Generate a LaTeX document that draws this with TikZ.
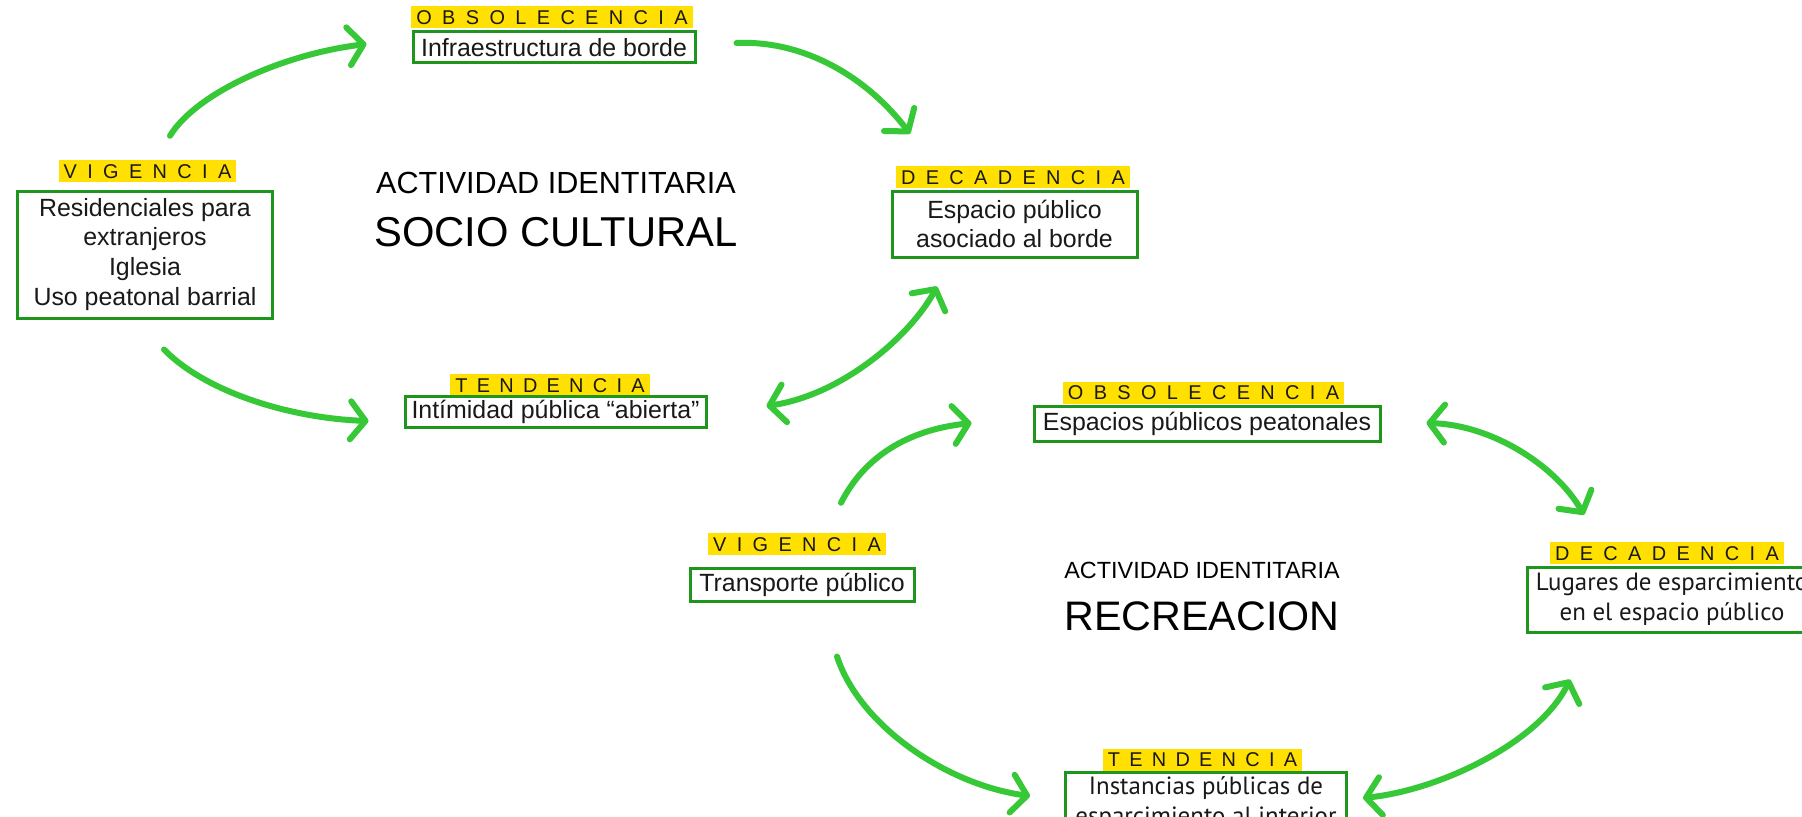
\documentclass[tikz,border=0pt]{standalone}
\usepackage{fontspec}
\setmainfont{Liberation Sans}
\newfontfamily\lblfont[LetterSpace=52]{Liberation Sans}
\newfontfamily\lblfontT[LetterSpace=46.5]{Liberation Sans}
\newfontfamily\myr{PT Sans}
\usetikzlibrary{arrows.meta}
\definecolor{ylw}{RGB}{255,224,0}
\definecolor{boxg}{RGB}{30,150,30}
\definecolor{arrg}{RGB}{55,200,55}
\definecolor{txt}{RGB}{25,25,25}
\tikzset{
 lbl/.style={fill=ylw, inner xsep=5bp, inner ysep=3.8bp, text height=14.4bp, text depth=0bp,
   font=\fontsize{20}{20}\lblfont, text=txt},
 lblT/.style={lbl, font=\fontsize{20}{20}\lblfontT},
 box/.style={draw=boxg, line width=3bp, fill=white, inner sep=0pt, align=center,
   font=\fontsize{25}{30}\selectfont, text=txt},
 ttl/.style={anchor=base, inner sep=0pt, text=black},
 flow/.style={draw=arrg, line width=6bp, line cap=round, -{Straight Barb[length=15bp,width=38bp,round]}},
 both/.style={draw=arrg, line width=6bp, line cap=round, {Straight Barb[length=15bp,width=38bp,round]}-{Straight Barb[length=15bp,width=38bp,round]}},
}
\begin{document}
\begin{tikzpicture}[x=1bp,y=-1bp]
\useasboundingbox (0,0) rectangle (1802,817);
\clip (0,0) rectangle (1802,817);
\fill[white] (0,0) rectangle (1802,817);

% socio cultural
\node[lbl] (obs1l) at (552,17) {OBSOLECENCIA};
\node[box, minimum width=282bp, minimum height=31bp] (infra) at (554,47.5) {Infraestructura de borde};
\node[lbl] (vig1l) at (147.5,171) {VIGENCIA};
\node[box, minimum width=254bp, minimum height=127bp] (res) at (145,254.5) {Residenciales para\\extranjeros\\Iglesia\\Uso peatonal barrial};
\node[lbl] (dec1l) at (1013,177) {DECADENCIA};
\node[box, minimum width=245bp, minimum height=66bp] (esp1) at (1014.5,224) {Espacio público\\asociado al borde};
\node[lblT] (ten1l) at (550,385) {TENDENCIA};
\node[box, minimum width=301bp, minimum height=31bp] (intim) at (555.5,411.5) {Intímidad pública “abierta”};
\node[ttl, font=\fontsize{30.7}{32}\selectfont] (t1a) at (556,193) {ACTIVIDAD IDENTITARIA};
\node[ttl, font=\fontsize{41.9}{44}\selectfont] (t1b) at (556,246) {SOCIO CULTURAL};

% recreacion
\node[lbl] (obs2l) at (1203.5,392.5) {OBSOLECENCIA};
\node[box, minimum width=346bp, minimum height=35bp] (esp2) at (1207,423.5) {Espacios públicos peatonales};
\node[lbl] (vig2l) at (797,544) {VIGENCIA};
\node[box, minimum width=224bp, minimum height=33bp] (trans) at (802,584.5) {Transporte público};
\node[lbl] (dec2l) at (1667,553) {DECADENCIA};
\node[box, minimum width=290bp, minimum height=65bp, font=\fontsize{25}{30}\myr] (lug) at (1672,599.5) {Lugares de esparcimiento\\en el espacio público};
\node[lblT] (ten2l) at (1202.5,759.5) {TENDENCIA};
\node[box, minimum width=281bp, minimum height=62bp, font=\fontsize{25}{30}\myr] (inst) at (1206,803) {Instancias públicas de\\esparcimiento al interior};
\node[ttl, font=\fontsize{23.5}{26}\selectfont] (t2a) at (1202,578) {ACTIVIDAD IDENTITARIA};
\node[ttl, font=\fontsize{41.4}{44}\selectfont] (t2b) at (1202,630) {RECREACION};

% arrows
\draw[flow] ([shift={(22.5,-24)}]vig1l.north) .. controls +(25,-41) and +(-88,11) .. ([shift={(-45,-3.5)}]infra.west);
\draw[flow] ([shift={(40,-4.5)}]infra.east) .. controls +(65,-3) and +(-45,-59) .. ([shift={(-103,-32)}]dec1l.north);
\draw[flow] ([shift={(19,30)}]res.south) .. controls +(41,42) and +(-80,-3) .. ([shift={(-35,9.5)}]intim.west);
\draw[both] ([shift={(59,-5.5)}]intim.east) .. controls +(75,-11) and +(-27,50) .. ([shift={(-77.5,28)}]esp1.south);
\draw[flow] ([shift={(44,-30)}]vig2l.north) .. controls +(24,-47) and +(-63,7) .. ([shift={(-61,-0.5)}]esp2.west);
\draw[both] ([shift={(45,-0.5)}]esp2.east) .. controls +(65,2) and +(-29,-50) .. ([shift={(-83,-27)}]dec2l.north);
\draw[flow] ([shift={(35,54)}]trans.south) .. controls +(23,70) and +(-82,-11) .. ([shift={(-34,-7)}]inst.west);
\draw[both] ([shift={(15,-5)}]inst.east) .. controls +(78,-8) and +(-30,62) .. ([shift={(-102,46)}]lug.south);
\end{tikzpicture}
\end{document}
